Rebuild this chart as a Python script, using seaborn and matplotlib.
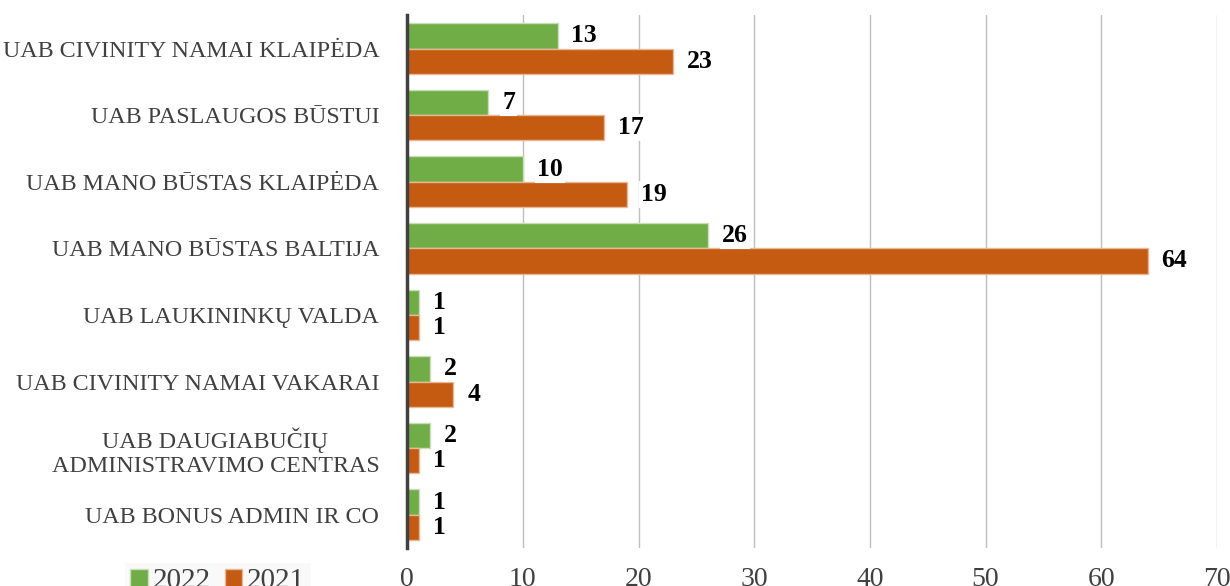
import numpy as np
import pandas as pd
import seaborn as sns
import matplotlib.pyplot as plt
from matplotlib.patches import Patch

# --- Data ---
COMPANIES = [
    "UAB CIVINITY NAMAI KLAIPĖDA",
    "UAB PASLAUGOS BŪSTUI",
    "UAB MANO BŪSTAS KLAIPĖDA",
    "UAB MANO BŪSTAS BALTIJA",
    "UAB LAUKININKŲ VALDA",
    "UAB CIVINITY NAMAI VAKARAI",
    "UAB DAUGIABUČIŲ\nADMINISTRAVIMO CENTRAS",
    "UAB BONUS ADMIN IR CO",
]
VALUES_2022 = [13, 7, 10, 26, 1, 2, 2, 1]
VALUES_2021 = [23, 17, 19, 64, 1, 4, 1, 1]
YEARS = ["2022", "2021"]
X_TICKS = [0, 10, 20, 30, 40, 50, 60, 70]

# --- Style ---
COLORS = {"2022": "#70AD47", "2021": "#C55A11"}
EDGES = {"2022": "#C9DDB8", "2021": "#E8B896"}
TEXT_COLOR = "#404040"
FONT = "Liberation Serif"

sns.set_style("white")
plt.rcParams['font.family'] = [FONT, 'DejaVu Serif']

df = pd.DataFrame({
    'Company': COMPANIES * 2,
    'Year': [YEARS[0]] * len(COMPANIES) + [YEARS[1]] * len(COMPANIES),
    'Count': VALUES_2022 + VALUES_2021,
})

fig = plt.figure(figsize=(12.3, 5.86), dpi=100)
ax = fig.add_axes([0.331, 0.0648, 0.9894 - 0.331, 0.974 - 0.0648])

sns.barplot(data=df, y='Company', x='Count', hue='Year', hue_order=YEARS,
            palette=COLORS, orient='h', width=0.76, gap=0, ax=ax,
            legend=False, saturation=1)

for cont, year in zip(ax.containers, YEARS):
    for bar in cont:
        bar.set_edgecolor(EDGES[year])
        bar.set_linewidth(1.0)
    ax.bar_label(cont, labels=[str(int(v)) for v in cont.datavalues],
                 padding=10, fontsize=18.5, fontweight='bold', color='black',
                 bbox=dict(facecolor='white', edgecolor='none', pad=1.5))

ax.set_xlim(0, 70)
ax.set_xticks(X_TICKS)
ax.grid(axis='x', color='#BFBFBF', linewidth=1)
ax.set_axisbelow(True)
ax.set_xlabel("")
ax.set_ylabel("")
for side in ['top', 'right', 'bottom']:
    ax.spines[side].set_visible(False)
ax.spines['left'].set_color('#404040')
ax.spines['left'].set_linewidth(2.5)
ax.tick_params(axis='x', length=0, pad=14, labelsize=20, labelcolor=TEXT_COLOR)
ax.tick_params(axis='y', length=0, pad=20, labelsize=17.3, labelcolor=TEXT_COLOR)
for lbl in ax.get_yticklabels():
    lbl.set_multialignment('center')
    lbl.set_linespacing(1.2)

# legend
handles = [Patch(facecolor=COLORS[y], edgecolor=EDGES[y]) for y in YEARS]
leg = fig.legend(handles, YEARS, loc='upper left', bbox_to_anchor=(110 / 1230, 1 - 548 / 586),
                 ncol=2, frameon=True, fontsize=21, handlelength=0.6, handleheight=0.6,
                 handletextpad=0.15, columnspacing=0.5, borderpad=0.2, fancybox=False)
leg.get_frame().set_facecolor('#F8F8F8')
leg.get_frame().set_edgecolor('none')
for t in leg.get_texts():
    t.set_color(TEXT_COLOR)

fig.savefig('out.png', dpi=100)
